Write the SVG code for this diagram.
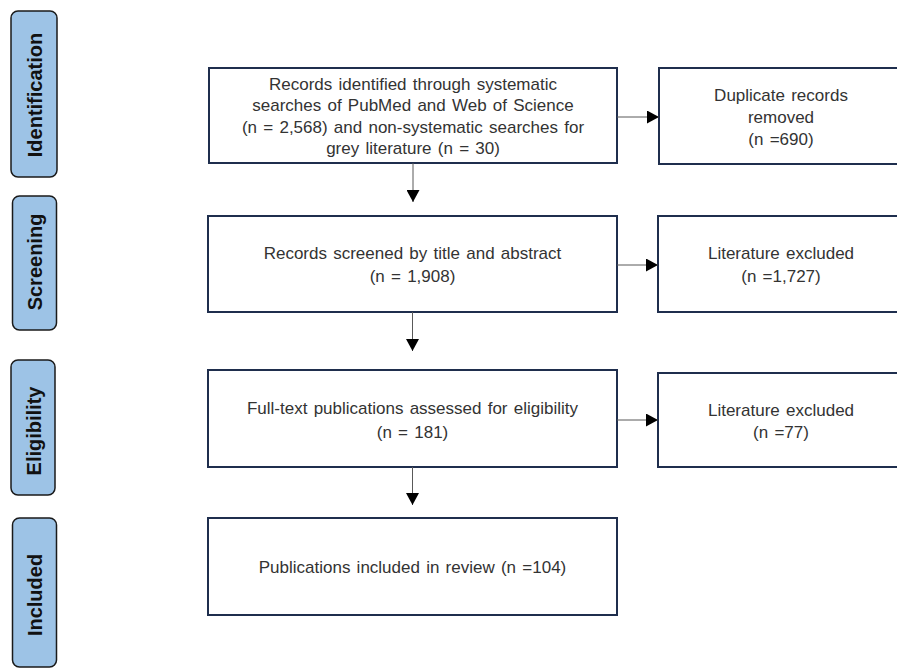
<svg xmlns="http://www.w3.org/2000/svg" width="897" height="669" viewBox="0 0 897 669">
<style>
.side{fill:#9dc3e6;stroke:#1a1a1a;stroke-width:1.5}
.sidet{font-family:"Liberation Sans",Arial,sans-serif;font-weight:bold;font-size:20px;fill:#111;text-anchor:middle}
.box{fill:#fff;stroke:#1f2e4d;stroke-width:2}
.t{font-family:"Liberation Sans",Arial,sans-serif;font-size:17px;fill:#333;text-anchor:middle;word-spacing:1.5px}
.c{stroke:#595959;stroke-width:1;fill:none}
</style>
<defs>
<marker id="ah" markerUnits="userSpaceOnUse" markerWidth="13" markerHeight="13" refX="12" refY="6.5" orient="auto">
<path d="M0,0 L12,6.5 L0,13 Z" fill="#000"/>
</marker>
</defs>
<rect width="897" height="669" fill="#fff"/>
<g id="stage-identification">
<rect class="side" x="11" y="11" width="46" height="166" rx="7"/>
<text class="sidet" transform="translate(41.5,95) rotate(-90)">Identification</text>
</g>
<g id="stage-screening">
<rect class="side" x="12.5" y="196" width="44" height="134" rx="7"/>
<text class="sidet" transform="translate(42,262) rotate(-90)">Screening</text>
</g>
<g id="stage-eligibility">
<rect class="side" x="11" y="360" width="44" height="135" rx="7"/>
<text class="sidet" transform="translate(40.5,431) rotate(-90)">Eligibility</text>
</g>
<g id="stage-included">
<rect class="side" x="12.5" y="518" width="44" height="149" rx="7"/>
<text class="sidet" transform="translate(42,595) rotate(-90)">Included</text>
</g>
<g id="identified">
<rect class="box" x="209" y="68" width="408" height="95"/>
<text class="t" x="413" y="90">Records identified through systematic</text>
<text class="t" x="413" y="111">searches of PubMed and Web of Science</text>
<text class="t" x="413" y="133">(n = 2,568) and non-systematic searches for</text>
<text class="t" x="413" y="154">grey literature (n = 30)</text>
</g>
<g id="duplicates">
<rect class="box" x="659" y="68" width="250" height="96"/>
<text class="t" x="781" y="101">Duplicate records</text>
<text class="t" x="781" y="123">removed</text>
<text class="t" x="781" y="145">(n =690)</text>
</g>
<g id="screened">
<rect class="box" x="208" y="216" width="409" height="96"/>
<text class="t" x="412.5" y="259">Records screened by title and abstract</text>
<text class="t" x="412.5" y="282">(n = 1,908)</text>
</g>
<g id="excluded1">
<rect class="box" x="658" y="216" width="250" height="96"/>
<text class="t" x="781" y="259">Literature excluded</text>
<text class="t" x="781" y="282">(n =1,727)</text>
</g>
<g id="fulltext">
<rect class="box" x="208" y="370" width="409" height="97"/>
<text class="t" x="412.5" y="414">Full-text publications assessed for eligibility</text>
<text class="t" x="412.5" y="438">(n = 181)</text>
</g>
<g id="excluded2">
<rect class="box" x="658" y="373" width="250" height="94"/>
<text class="t" x="781" y="416">Literature excluded</text>
<text class="t" x="781" y="438">(n =77)</text>
</g>
<g id="included">
<rect class="box" x="208" y="518" width="409" height="97"/>
<text class="t" x="412.5" y="573">Publications included in review (n =104)</text>
</g>
<g id="connectors">
<line class="c" x1="413" y1="163" x2="413" y2="202" marker-end="url(#ah)"/>
<line class="c" x1="412.5" y1="312" x2="412.5" y2="351" marker-end="url(#ah)"/>
<line class="c" x1="412.5" y1="467" x2="412.5" y2="505" marker-end="url(#ah)"/>
<line class="c" x1="617" y1="117" x2="659" y2="117" marker-end="url(#ah)"/>
<line class="c" x1="617" y1="265" x2="658" y2="265" marker-end="url(#ah)"/>
<line class="c" x1="617" y1="420" x2="658" y2="420" marker-end="url(#ah)"/>
</g>
</svg>
